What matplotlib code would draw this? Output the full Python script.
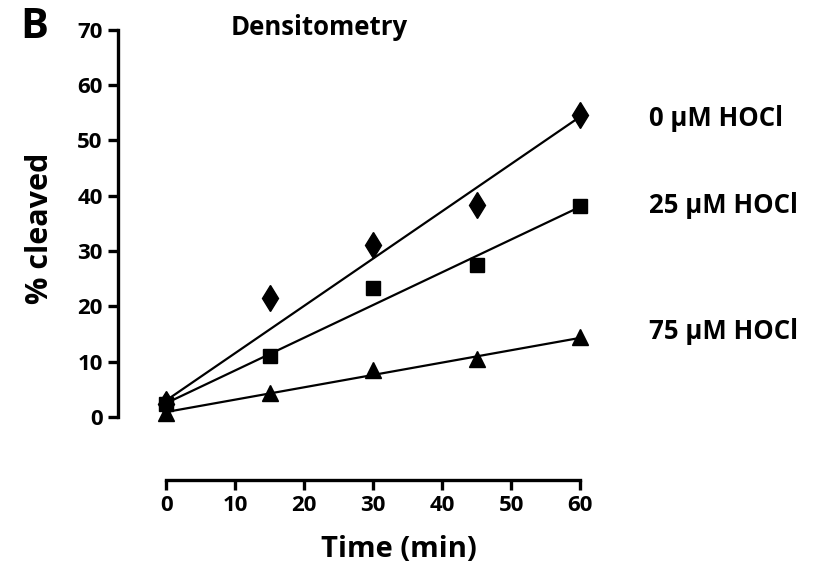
import matplotlib
matplotlib.use("Agg")
import matplotlib.pyplot as plt

# data
time_min = [0, 15, 30, 45, 60]
hocl_0 = [2.3, 21.5, 31.0, 38.3, 54.6]
hocl_25 = [2.3, 11.0, 23.3, 27.5, 38.2]
hocl_75 = [0.8, 4.3, 8.5, 10.4, 14.5]

# regression lines (values at t=0 and t=60 as drawn)
fit_x = [0, 60]
fit_0 = [3.0, 54.3]
fit_25 = [2.5, 38.0]
fit_75 = [0.9, 14.3]

labels = ["0 \u00b5M HOCl", "25 \u00b5M HOCl", "75 \u00b5M HOCl"]
label_y = [54.0, 38.3, 15.4]

plt.rcParams['font.family'] = ['Open Sans', 'DejaVu Sans']
plt.rcParams['font.weight'] = 'bold'

fig = plt.figure(figsize=(8.25, 5.8), dpi=100)
ax = fig.add_axes([0.143, 0.1724, 0.577, 0.781])

series = [(hocl_0, fit_0, 'd', 13), (hocl_25, fit_25, 's', 10), (hocl_75, fit_75, '^', 11)]
for vals, fit, mk, ms in series:
    ax.plot(fit_x, fit, color='black', lw=1.6, zorder=2)
    ax.plot(time_min, vals, linestyle='none', marker=mk, markersize=ms,
            color='black', zorder=3, clip_on=False)

for lab, ly in zip(labels, label_y):
    ax.text(70, ly, lab, fontsize=18.5, fontweight='bold', va='center', ha='left',
            clip_on=False)

ax.set_xlim(-7, 62)
ax.set_ylim(-11.4, 70.5)
ax.set_xticks(range(0, 61, 10))
ax.set_yticks(range(0, 71, 10))
ax.spines['top'].set_visible(False)
ax.spines['right'].set_visible(False)
ax.spines['left'].set_bounds(0, 70)
ax.spines['bottom'].set_bounds(0, 60)
for s in ('left', 'bottom'):
    ax.spines[s].set_linewidth(2.4)
ax.tick_params(width=2.4, length=7, labelsize=16, pad=4)
for t in ax.get_xticklabels() + ax.get_yticklabels():
    t.set_fontweight('bold')

fig.text(0.048, 0.607, "% cleaved", rotation=90, fontsize=22, fontweight='bold',
         ha='center', va='center')
fig.text(0.483, 0.053, "Time (min)", fontsize=21, fontweight='bold',
         ha='center', va='center')
fig.text(0.387, 0.953, "Densitometry", fontsize=18.5, fontweight='bold',
         ha='center', va='center')
fig.text(0.041, 0.952, "B", fontsize=30, fontweight='bold', ha='center', va='center')

fig.savefig("out.png", dpi=100)
